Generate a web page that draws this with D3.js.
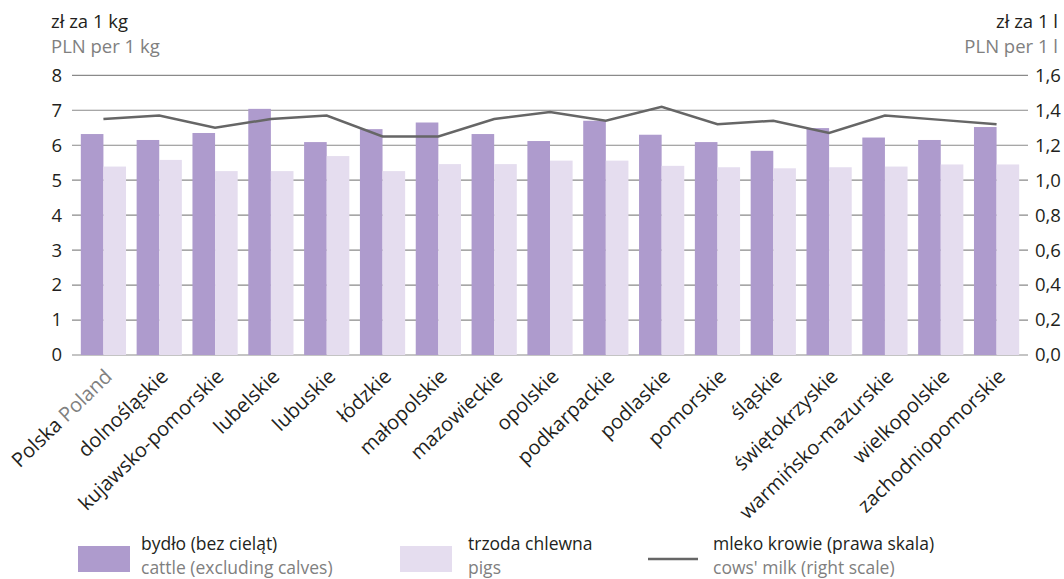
<!DOCTYPE html>
<html>
<head>
<meta charset="utf-8">
<script src="https://cdn.jsdelivr.net/npm/d3@7"></script>
<style>
  body { margin: 0; background: #fff; }
  text { font-family: "Open Sans", "Noto Sans", sans-serif; }
</style>
</head>
<body>
<svg id="chart" width="1064" height="579"></svg>
<script>
// data
var regions = ['Polska', 'dolnośląskie', 'kujawsko-pomorskie', 'lubelskie', 'lubuskie', 'łódzkie',
  'małopolskie', 'mazowieckie', 'opolskie', 'podkarpackie', 'podlaskie', 'pomorskie', 'śląskie',
  'świętokrzyskie', 'warmińsko-mazurskie', 'wielkopolskie', 'zachodniopomorskie'];
var cattle = [6.32, 6.15, 6.35, 7.04, 6.09, 6.46, 6.65, 6.32, 6.12, 6.70, 6.30, 6.09, 5.84, 6.49, 6.22, 6.15, 6.52];
var pigs = [5.39, 5.58, 5.26, 5.26, 5.69, 5.26, 5.46, 5.46, 5.56, 5.56, 5.41, 5.37, 5.34, 5.37, 5.39, 5.45, 5.45];
var milk = [1.35, 1.37, 1.30, 1.35, 1.37, 1.25, 1.25, 1.35, 1.39, 1.34, 1.42, 1.32, 1.34, 1.27, 1.37, 1.345, 1.32];
var leftTicks = [0, 1, 2, 3, 4, 5, 6, 7, 8];
var rightTicks = [0, 0.2, 0.4, 0.6, 0.8, 1.0, 1.2, 1.4, 1.6];

var dark = '#231f20';
var grey = '#808080';
var cattleColor = '#ae9bcd';
var pigsColor = '#e5ddef';
var milkColor = '#666666';

var svg = d3.select('#chart');

// scales
var x = d3.scaleBand()
  .domain(regions)
  .range([73, 1027])
  .paddingInner(0.19)
  .paddingOuter(0.14);
var x1 = d3.scaleBand()
  .domain(['cattle', 'pigs'])
  .range([0, x.bandwidth()]);
var y = d3.scaleLinear().domain([0, 8]).range([355, 75.3]);
var y2 = d3.scaleLinear().domain([0, 1.6]).range([355, 75.3]);

// grid lines
svg.append('g')
  .selectAll('line')
  .data(leftTicks)
  .enter()
  .append('line')
    .attr('x1', 72)
    .attr('x2', 1028)
    .attr('y1', function(d) { return y(d); })
    .attr('y2', function(d) { return y(d); })
    .style('stroke', '#8a8a8a')
    .style('stroke-width', 1.2);

// left axis
var leftAxis = svg.append('g')
  .attr('transform', 'translate(72,0)')
  .call(d3.axisLeft(y).tickValues(leftTicks).tickSize(0).tickPadding(10));
leftAxis.select('.domain').remove();
leftAxis.selectAll('text')
  .style('font-size', '18.5px')
  .style('fill', dark);

// right axis
var commaFormat = function(d) { return d3.format('.1f')(d).replace('.', ','); };
var rightAxis = svg.append('g')
  .attr('transform', 'translate(1028,0)')
  .call(d3.axisRight(y2).tickValues(rightTicks).tickSize(0).tickPadding(7).tickFormat(commaFormat));
rightAxis.select('.domain').remove();
rightAxis.selectAll('text')
  .style('font-size', '18.5px')
  .style('fill', dark);

// bars
var groups = svg.append('g')
  .selectAll('g')
  .data(regions)
  .enter()
  .append('g')
    .attr('transform', function(d) { return 'translate(' + x(d) + ',0)'; });

groups.append('rect')
  .attr('x', x1('cattle'))
  .attr('width', x1.bandwidth())
  .attr('y', function(d, i) { return y(cattle[i]); })
  .attr('height', function(d, i) { return y(0) - y(cattle[i]); })
  .style('fill', cattleColor);

groups.append('rect')
  .attr('x', x1('pigs'))
  .attr('width', x1.bandwidth())
  .attr('y', function(d, i) { return y(pigs[i]); })
  .attr('height', function(d, i) { return y(0) - y(pigs[i]); })
  .style('fill', pigsColor);

// milk line on right scale
var line = d3.line()
  .x(function(d, i) { return x(regions[i]) + x.bandwidth() / 2; })
  .y(function(d) { return y2(d); });
svg.append('path')
  .datum(milk)
  .attr('d', line)
  .style('fill', 'none')
  .style('stroke', milkColor)
  .style('stroke-width', 2.5);

// x labels, rotated
var labels = svg.append('g')
  .selectAll('text')
  .data(regions)
  .enter()
  .append('text')
    .attr('transform', function(d) {
      return 'translate(' + (x(d) + x.bandwidth() / 2 + 10) + ',378) rotate(-44)';
    })
    .style('text-anchor', 'end')
    .style('font-size', '20px')
    .style('fill', dark);
labels.append('tspan').text(function(d) { return d; });
labels.filter(function(d, i) { return i === 0; })
  .append('tspan')
    .style('fill', grey)
    .text(' Poland');

// axis titles
svg.append('text').attr('x', 51).attr('y', 28).style('font-size', '18.5px').style('fill', dark).text('zł za 1 kg');
svg.append('text').attr('x', 51).attr('y', 53).style('font-size', '18.5px').style('fill', grey).text('PLN per 1 kg');
svg.append('text').attr('x', 1058).attr('y', 28).style('font-size', '18.5px').style('fill', dark).style('text-anchor', 'end').text('zł za 1 l');
svg.append('text').attr('x', 1058).attr('y', 53).style('font-size', '18.5px').style('fill', grey).style('text-anchor', 'end').text('PLN per 1 l');

// legend
var legend = svg.append('g');
legend.append('rect').attr('x', 78).attr('y', 546).attr('width', 52).attr('height', 26).style('fill', cattleColor);
legend.append('text').attr('x', 141).attr('y', 550).style('font-size', '17.5px').style('fill', dark).text('bydło (bez cieląt)');
legend.append('text').attr('x', 141).attr('y', 574).style('font-size', '17.5px').style('fill', grey).text('cattle (excluding calves)');

legend.append('rect').attr('x', 400).attr('y', 546).attr('width', 52).attr('height', 26).style('fill', pigsColor);
legend.append('text').attr('x', 468).attr('y', 550).style('font-size', '17.5px').style('fill', dark).text('trzoda chlewna');
legend.append('text').attr('x', 468).attr('y', 574).style('font-size', '17.5px').style('fill', grey).text('pigs');

legend.append('line').attr('x1', 648).attr('x2', 698).attr('y1', 559).attr('y2', 559).style('stroke', milkColor).style('stroke-width', 2.5);
legend.append('text').attr('x', 713).attr('y', 550).style('font-size', '17.5px').style('fill', dark).text('mleko krowie (prawa skala)');
legend.append('text').attr('x', 713).attr('y', 574).style('font-size', '17.5px').style('fill', grey).text('cows\' milk  (right scale)');
</script>
</body>
</html>
